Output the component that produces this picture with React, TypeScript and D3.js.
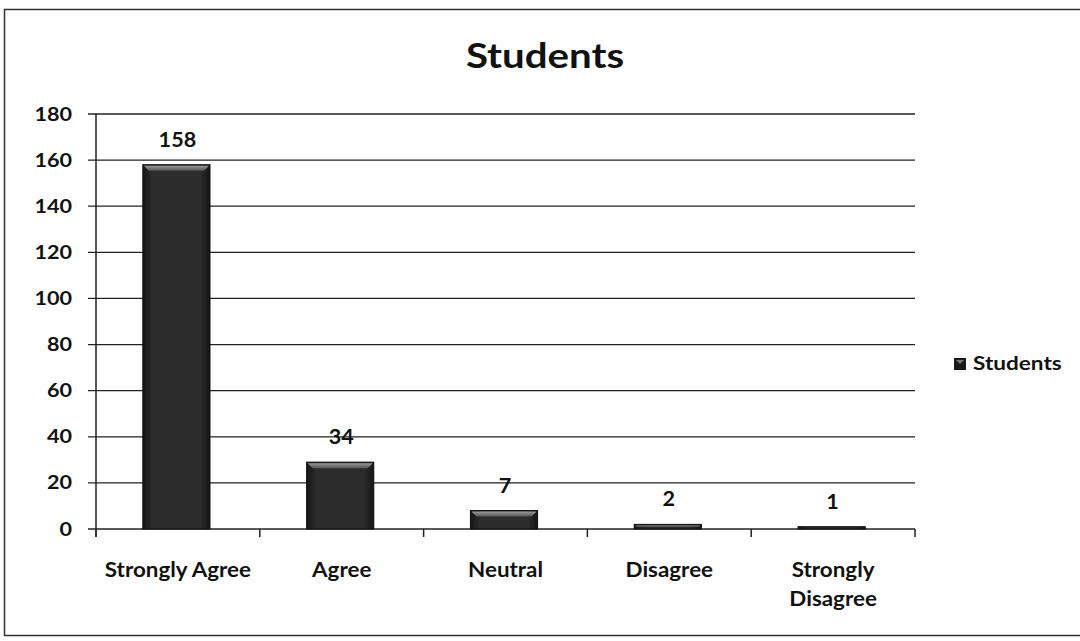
import * as d3 from 'd3'

const categories = ['Strongly Agree', 'Agree', 'Neutral', 'Disagree', 'Strongly Disagree']
// bar heights as drawn in the picture
const barValues = [158, 29, 8, 2, 1]
// data labels printed above bars
const labelValues = [158, 34, 7, 2, 1]
const yTicks = [0, 20, 40, 60, 80, 100, 120, 140, 160, 180]
const seriesName = 'Students'

const W = 1080
const H = 641
const FONT = 'Lato, "Open Sans", sans-serif'

// scanned chart is stretched a little horizontally, so text gets an x-scale
function T(props: { x: number; y: number; size: number; sx: number; anchor?: string; children: any }) {
  const { x, y, size, sx, anchor = 'middle', children } = props
  return (
    <text
      transform={`translate(${x},${y}) scale(${sx},1)`}
      textAnchor={anchor}
      fontFamily={FONT}
      fontWeight={700}
      fontSize={size}
      fill="#111"
    >
      {children}
    </text>
  )
}

export default function App() {
  const x = d3.scaleBand<string>().domain(categories).range([96, 915]).paddingInner(0).paddingOuter(0)
  const y = d3.scaleLinear().domain([0, 180]).range([529, 114])
  const bw = x.bandwidth() * 0.41

  const wrap = (s: string) => (s === 'Strongly Disagree' ? ['Strongly', 'Disagree'] : [s])

  return (
    <svg width={W} height={H} style={{ position: 'absolute', left: 0, top: 0, background: '#fff' }}>
      <defs>
        <linearGradient id="bevel" x1="0" y1="0" x2="0" y2="1">
          <stop offset="0" stopColor="#9a9a9a" />
          <stop offset="1" stopColor="#555" />
        </linearGradient>
        <linearGradient id="body" x1="0" y1="0" x2="1" y2="0">
          <stop offset="0" stopColor="#161616" />
          <stop offset="0.15" stopColor="#2c2c2c" />
          <stop offset="0.85" stopColor="#2c2c2c" />
          <stop offset="1" stopColor="#161616" />
        </linearGradient>
      </defs>
      <rect x={4.5} y={9.5} width={1090} height={626} fill="none" stroke="#333" strokeWidth={1.5} />

      <T x={545} y={68} size={35} sx={1.15}>
        Students
      </T>

      {yTicks.map((t) => (
        <g key={t}>
          <line x1={88} x2={915} y1={y(t)} y2={y(t)} stroke="#222" strokeWidth={1.3} />
          <T x={72} y={y(t) + 6.5} size={18} sx={1.2} anchor="end">
            {t}
          </T>
        </g>
      ))}
      <line x1={96} x2={96} y1={y(180)} y2={537} stroke="#222" strokeWidth={1.5} />
      {[...categories.map((c) => x(c)!), 915].map((px, i) => (
        <line key={i} x1={px} x2={px} y1={y(0)} y2={537} stroke="#222" strokeWidth={1.5} />
      ))}

      {categories.map((c, i) => {
        const cx = x(c)! + x.bandwidth() / 2 - 1.5
        const x0 = cx - bw / 2
        const top = y(barValues[i])
        const h = y(0) - top
        const bev = Math.min(6, h / 2)
        return (
          <g key={c}>
            <rect x={x0} y={top} width={bw} height={h} fill="url(#body)" stroke="#0c0c0c" strokeWidth={1} />
            {h > 3 && (
              <polygon
                points={`${x0 + 1},${top + 1} ${x0 + bw - 1},${top + 1} ${x0 + bw - bev},${top + bev} ${x0 + bev},${top + bev}`}
                fill="url(#bevel)"
              />
            )}
            <T x={cx + 1} y={top - 18} size={20} sx={1.08}>
              {labelValues[i]}
            </T>
            {wrap(c).map((line, j) => (
              <T key={j} x={x(c)! + x.bandwidth() / 2} y={577 + j * 29} size={20} sx={1.12}>
                {line}
              </T>
            ))}
          </g>
        )
      })}

      <rect x={954} y={358} width={12} height={12} fill="#1a1a1a" />
      <polygon points="956,360 964,360 960,364" fill="#777" />
      <T x={973} y={370} size={18.5} sx={1.22} anchor="start">
        {seriesName}
      </T>
    </svg>
  )
}
